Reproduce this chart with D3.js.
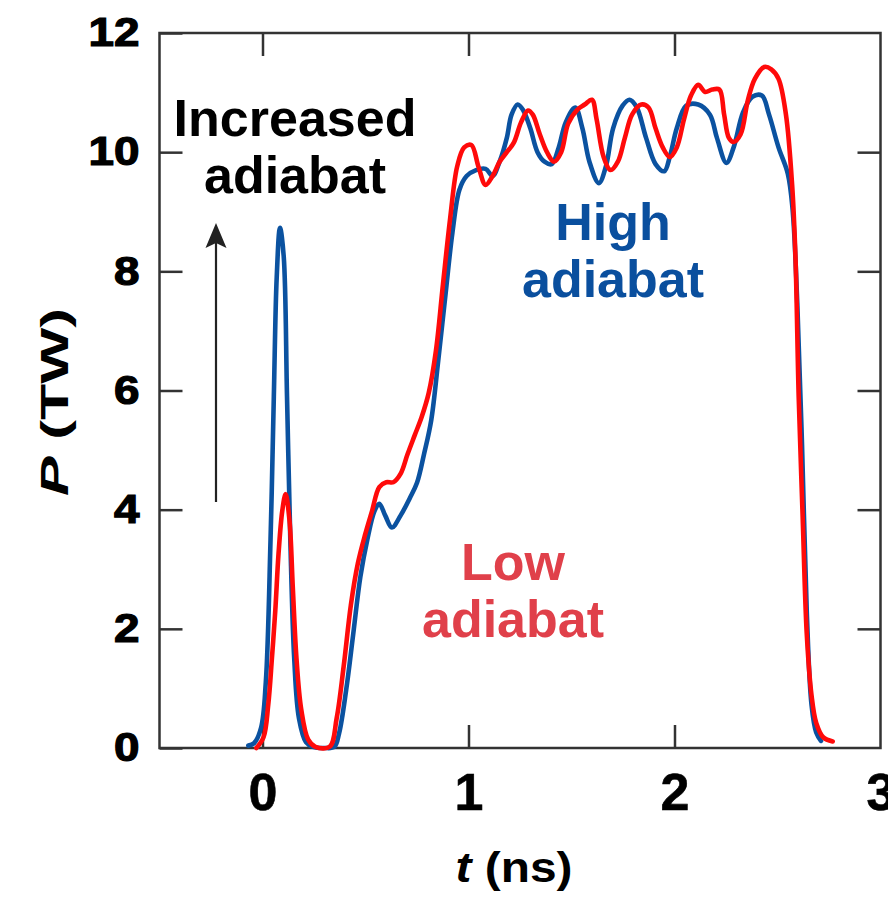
<!DOCTYPE html>
<html>
<head>
<meta charset="utf-8">
<script src="https://cdn.jsdelivr.net/npm/d3@7"></script>
<style>
  body { margin: 0; background: #ffffff; }
  svg text { font-family: "Liberation Sans", Arial, Helvetica, sans-serif; font-weight: bold; }
</style>
</head>
<body>
<svg id="chart" width="888" height="900"></svg>
<script>
// Laser pulse shapes: power P (TW) versus time t (ns)
const highT = [-0.069, -0.041, -0.007, 0.016, 0.039, 0.055, 0.069, 0.085, 0.103, 0.119, 0.135, 0.154, 0.177, 0.211, 0.245, 0.303, 0.349,
  0.372, 0.406, 0.440, 0.475, 0.509, 0.544, 0.567, 0.596, 0.628, 0.670, 0.716, 0.750, 0.784, 0.819, 0.853, 0.888, 0.922, 0.956, 0.991,
  1.037, 1.083, 1.117, 1.151, 1.186, 1.209, 1.239, 1.266, 1.300, 1.335, 1.369, 1.404, 1.438, 1.472, 1.518, 1.553, 1.587, 1.633, 1.667,
  1.702, 1.748, 1.782, 1.817, 1.862, 1.908, 1.950, 1.977, 2.011, 2.057, 2.115, 2.172, 2.206, 2.252, 2.287, 2.333, 2.378, 2.424, 2.459,
  2.505, 2.550, 2.573, 2.596, 2.619, 2.642, 2.665, 2.688, 2.711];
const highP = [0.04, 0.08, 0.34, 1.1, 3.5, 5.9, 7.9, 8.73, 8.25, 5.9, 3.5, 1.5, 0.5, 0.1, 0.02, 0.0, 0.02,
  0.25, 0.97, 1.9, 2.87, 3.5, 3.98, 4.1, 3.9, 3.7, 3.9, 4.2, 4.45, 4.93, 5.5, 6.5, 7.6, 8.65, 9.37, 9.6,
  9.7, 9.72, 9.6, 9.84, 10.24, 10.63, 10.8, 10.7, 10.4, 10.0, 9.84, 9.8, 10.08, 10.5, 10.75, 10.4, 9.84, 9.48, 9.76,
  10.4, 10.78, 10.88, 10.75, 10.24, 9.8, 9.68, 9.92, 10.4, 10.78, 10.8, 10.63, 10.24, 9.82, 10.08, 10.67, 10.93, 10.95, 10.63,
  10.08, 9.64, 9.05, 7.47, 5.09, 2.3, 0.73, 0.26, 0.12];

const lowT = [-0.030, 0.005, 0.028, 0.046, 0.062, 0.078, 0.096, 0.112, 0.131, 0.147, 0.165, 0.188, 0.222, 0.257, 0.326,
  0.360, 0.394, 0.429, 0.463, 0.498, 0.532, 0.567, 0.601, 0.635, 0.670, 0.704, 0.739, 0.773, 0.807, 0.842, 0.876, 0.911, 0.945,
  0.979, 1.014, 1.048, 1.083, 1.117, 1.151, 1.186, 1.220, 1.255, 1.289, 1.312, 1.346, 1.381, 1.415, 1.450, 1.484, 1.530, 1.564,
  1.599, 1.622, 1.656, 1.690, 1.725, 1.759, 1.794, 1.839, 1.874, 1.908, 1.943, 1.977, 2.011, 2.046, 2.080, 2.115, 2.149, 2.183,
  2.218, 2.241, 2.264, 2.287, 2.321, 2.356, 2.390, 2.436, 2.470, 2.505, 2.541, 2.571, 2.587, 2.603, 2.622, 2.642, 2.665, 2.688,
  2.722, 2.768];
const lowP = [0.0, 0.18, 0.73, 1.52, 2.3, 3.27, 3.98, 4.26, 3.82, 2.7, 1.5, 0.65, 0.14, 0.02, 0.02,
  0.5, 1.37, 2.4, 3.1, 3.58, 3.98, 4.38, 4.46, 4.46, 4.6, 4.93, 5.25, 5.56, 5.96, 6.67, 7.78, 8.89, 9.76,
  10.08, 10.12, 9.76, 9.45, 9.6, 9.84, 10.0, 10.16, 10.5, 10.7, 10.63, 10.3, 10.0, 9.84, 10.0, 10.48, 10.72, 10.8,
  10.88, 10.55, 9.92, 9.7, 9.84, 10.24, 10.63, 10.8, 10.75, 10.4, 10.08, 9.92, 10.08, 10.55, 10.95, 11.13, 11.01, 11.05,
  11.05, 10.63, 10.24, 10.17, 10.3, 10.87, 11.23, 11.43, 11.39, 11.23, 10.63, 9.45, 8.26, 5.88, 3.9, 1.92, 0.89, 0.42,
  0.18, 0.11];

const xTicks = [0, 1, 2, 3];
const yTicks = [0, 2, 4, 6, 8, 10, 12];
const xDomain = [-0.5, 3];
const yDomain = [0, 12];

const svg = d3.select("#chart");
const plotLeft = 159.5, plotRight = 880.5, plotTop = 33, plotBottom = 748;

const x = d3.scaleLinear().domain(xDomain).range([plotLeft, plotRight]);
const y = d3.scaleLinear().domain(yDomain).range([plotBottom, plotTop]);

const axisColor = "#333333";
const tickLen = 23;

// Inward ticks on all four sides
const gx = svg.append("g").attr("transform", `translate(0,${plotBottom})`)
  .call(d3.axisBottom(x).tickValues(xTicks).tickSizeInner(-tickLen).tickSizeOuter(0).tickPadding(25).tickFormat(d3.format("d")));
const gxTop = svg.append("g").attr("transform", `translate(0,${plotTop})`)
  .call(d3.axisTop(x).tickValues(xTicks.filter(d => d < 3)).tickSizeInner(-tickLen).tickSizeOuter(0).tickFormat(""));
const gy = svg.append("g").attr("transform", `translate(${plotLeft},0)`)
  .call(d3.axisLeft(y).tickValues(yTicks).tickSizeInner(-tickLen).tickSizeOuter(0).tickPadding(20).tickFormat(d3.format("d")));
const gyRight = svg.append("g").attr("transform", `translate(${plotRight},0)`)
  .call(d3.axisRight(y).tickValues(yTicks.filter(d => d > 0 && d < 12)).tickSizeInner(-tickLen).tickSizeOuter(0).tickFormat(""));

[gx, gxTop, gy, gyRight].forEach(g => {
  g.select(".domain").remove();
  g.selectAll(".tick line").attr("stroke", axisColor).attr("stroke-width", 2.5);
});
gx.selectAll(".tick").filter(d => d === 3).select("line").remove();

gx.selectAll("text").attr("fill", "#000").style("font-size", "52px").attr("dy", "0.71em").attr("y", 25)
  .attr("stroke", "#000").attr("stroke-width", 0.6);
gy.selectAll("text").attr("fill", "#000").style("font-size", "40px")
  .attr("stroke", "#000").attr("stroke-width", 1.2)
  .attr("textLength", function () { return this.textContent.length * 25.5; })
  .attr("lengthAdjust", "spacingAndGlyphs");

// Plot frame
svg.append("rect")
  .attr("x", plotLeft).attr("y", plotTop)
  .attr("width", plotRight - plotLeft).attr("height", plotBottom - plotTop)
  .attr("fill", "none").attr("stroke", axisColor).attr("stroke-width", 2.5);

// Pulse curves
const line = d3.line().x(d => x(d[0])).y(d => y(d[1])).curve(d3.curveCatmullRom.alpha(0.5));
const highData = highT.map((t, i) => [t, highP[i]]);
const lowData = lowT.map((t, i) => [t, lowP[i]]);

svg.append("path").datum(highData).attr("d", line)
  .attr("fill", "none").attr("stroke", "#0b52a0").attr("stroke-width", 4.6)
  .attr("stroke-linejoin", "round").attr("stroke-linecap", "round");
svg.append("path").datum(lowData).attr("d", line)
  .attr("fill", "none").attr("stroke", "#ff0a0a").attr("stroke-width", 4.6)
  .attr("stroke-linejoin", "round").attr("stroke-linecap", "round");

// Annotations
function label(lines, cx, baselines, color, size) {
  lines.forEach((s, i) => {
    svg.append("text").attr("x", cx).attr("y", baselines[i])
      .attr("text-anchor", "middle").attr("fill", color)
      .style("font-size", size + "px").text(s);
  });
}
label(["Increased", "adiabat"], 295, [136, 193], "#000000", 52);
label(["High", "adiabat"], 613, [240, 297], "#0a4f9e", 52);
label(["Low", "adiabat"], 513, [580, 637], "#e0404a", 52);

// Arrow pointing towards increased adiabat
svg.append("line")
  .attr("x1", 216).attr("y1", 502).attr("x2", 216).attr("y2", 240)
  .attr("stroke", "#222222").attr("stroke-width", 2.2);
svg.append("path")
  .attr("d", "M216,223 L205.5,248 L216,243 L226.5,248 Z")
  .attr("fill", "#222222");

// Axis titles
const xt = svg.append("text").attr("x", 514).attr("y", 882).attr("text-anchor", "middle")
  .attr("fill", "#000").style("font-size", "42px")
  .attr("textLength", 117).attr("lengthAdjust", "spacingAndGlyphs");
xt.append("tspan").style("font-style", "italic").text("t");
xt.append("tspan").text(" (ns)");

const yt = svg.append("text").attr("transform", "translate(68,402) rotate(-90)")
  .attr("text-anchor", "middle").attr("fill", "#000").style("font-size", "38px")
  .attr("textLength", 188).attr("lengthAdjust", "spacingAndGlyphs");
yt.append("tspan").style("font-style", "italic").text("P");
yt.append("tspan").text(" (TW)");
</script>
</body>
</html>
